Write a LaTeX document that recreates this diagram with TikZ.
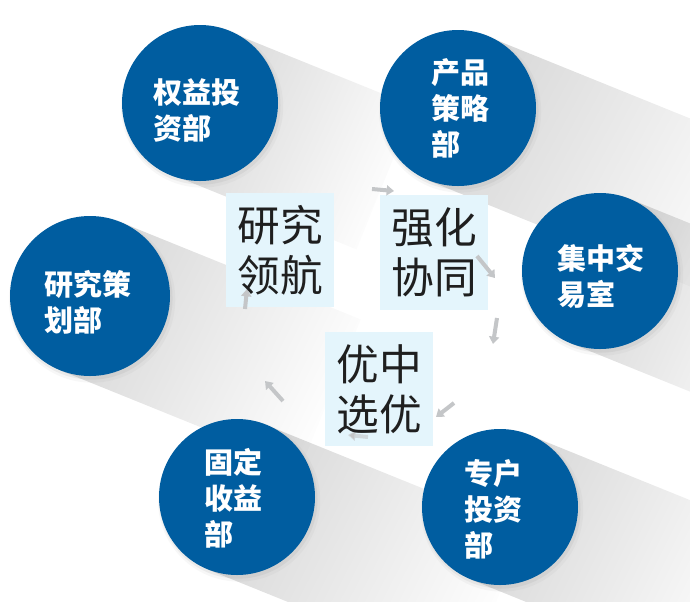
\documentclass[tikz,border=0pt]{standalone}
\usepackage{fontspec}
\newfontfamily\cjk{Noto Sans CJK SC}
\usetikzlibrary{arrows.meta,fadings,calc,shadows}
\definecolor{cblue}{RGB}{0,93,160}
\definecolor{boxfill}{RGB}{228,245,252}
\definecolor{arrgray}{RGB}{196,198,200}
\tikzfading[name=shfade, left color=transparent!84, right color=transparent!100]
\newcommand\lshadow[3]{%
  \fill[black, path fading=shfade, fading transform={rotate=-22}]
  ($(#1)+(-0.375*#2,0.927*#2)$) -- ($(#1)+(0.375*#2,-0.927*#2)$)
  -- ($(#1)+(0.375*#2+0.927*#3,-0.927*#2+0.375*#3)$)
  -- ($(#1)+(-0.375*#2+0.927*#3,0.927*#2+0.375*#3)$) -- cycle;}
\begin{document}
\begin{tikzpicture}[x=0.75pt,y=-0.75pt,
  bluecirc/.style={circle, fill=cblue, inner sep=0pt, minimum size=117pt,
    drop shadow={shadow xshift=1.5pt, shadow yshift=-2.5pt, shadow scale=1.04, opacity=0.06},
    drop shadow={shadow xshift=1pt, shadow yshift=-1.8pt, shadow scale=1.015, opacity=0.10}},
  ctext/.style={text=white, align=left, inner sep=0pt,
    font=\cjk\bfseries\fontsize{21.75pt}{27pt}\selectfont},
  cbox/.style={fill=boxfill, inner sep=0pt, minimum width=81pt, minimum height=85.5pt,
    align=center, text=black!88, font=\cjk\fontsize{32pt}{37.5pt}\selectfont},
  cyc/.style={draw=arrgray, line width=3pt, -{Triangle[length=5.5pt,width=7.5pt]}}]
\useasboundingbox (0,0) rectangle (690,601);
\clip (0,0) rectangle (690,601);
\fill[white] (0,0) rectangle (690,601);
% centres
\coordinate (cqy) at (200,103);
\coordinate (ccp) at (458,108);
\coordinate (cjz) at (600,271);
\coordinate (cyc) at (90,296);
\coordinate (cgd) at (237,497);
\coordinate (czh) at (500,507);
% long shadows
\lshadow{cqy}{77}{200}
\lshadow{ccp}{78}{320}
\lshadow{cjz}{78}{200}
\lshadow{cyc}{80}{260}
\lshadow{cgd}{78}{280}
\lshadow{czh}{78}{260}
% circles
\node[bluecirc] (qy) at (cqy) {};
\node[bluecirc] (cp) at (ccp) {};
\node[bluecirc] (jz) at (cjz) {};
\node[bluecirc, minimum size=120pt] (yc) at (cyc) {};
\node[bluecirc] (gd) at (cgd) {};
\node[bluecirc] (zh) at (czh) {};
% circle labels
\node[ctext] (qyt) at (197,110) {权益投\\资部};
\node[ctext] (cpt) at (460,108) {产品\\策略\\部};
\node[ctext] (jzt) at (601,276) {集中交\\易室};
\node[ctext] (yct) at (88,302) {研究策\\划部};
\node[ctext] (gdt) at (233,498) {固定\\收益\\部};
\node[ctext] (zht) at (493,509) {专户\\投资\\部};
% boxes
\node[cbox] (yj) at (280,250) {\phantom{研究}};
\node[cbox, minimum height=86pt] (qh) at (434,252.5) {\phantom{强化}};
\node[cbox] (yz) at (379,389) {\phantom{优中}};
% cycle arrows
\coordinate (a1s) at (372,189); \coordinate (a1e) at (394,191);
\coordinate (a2s) at (477,256); \coordinate (a2e) at (495,278);
\coordinate (a3s) at (497,318); \coordinate (a3e) at (493,344);
\coordinate (a4s) at (454,403); \coordinate (a4e) at (436,417);
\coordinate (a5s) at (368,437); \coordinate (a5e) at (348,435);
\coordinate (a6s) at (283,401); \coordinate (a6e) at (265,381);
\coordinate (a7s) at (245,309); \coordinate (a7e) at (247,289);
\draw[cyc] (a1s) -- (a1e);
\draw[cyc] (a2s) -- (a2e);
\draw[cyc] (a3s) -- (a3e);
\draw[cyc] (a4s) -- (a4e);
\draw[cyc, draw opacity=0.6] (a5s) -- (a5e);
\draw[cyc] (a6s) -- (a6e);
\draw[cyc] (a7s) -- (a7e);
% box texts
\node[cbox, fill=none] (yjt) at (yj) {研究\\领航};
\node[cbox, fill=none] (qht) at (qh) {强化\\协同};
\node[cbox, fill=none] (yzt) at (yz) {优中\\选优};
\end{tikzpicture}
\end{document}
